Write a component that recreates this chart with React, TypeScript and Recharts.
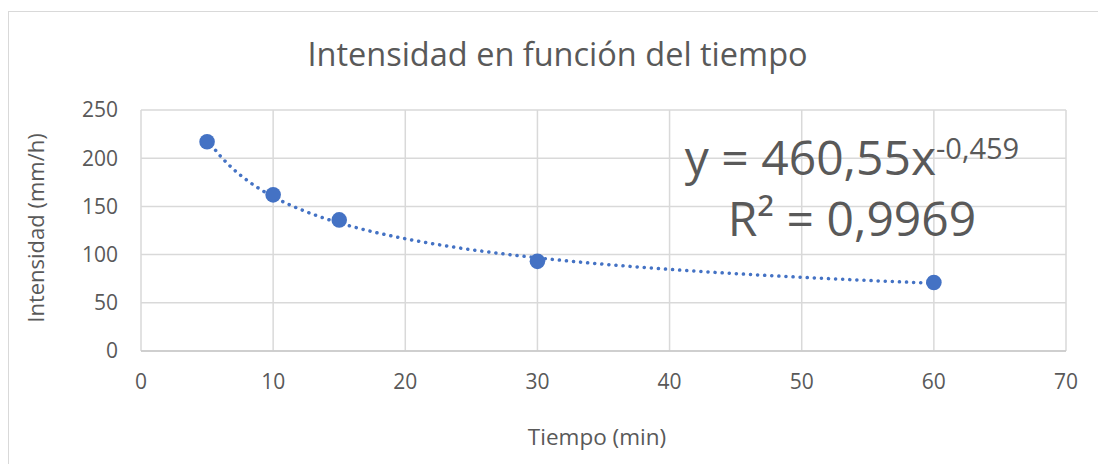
import { ComposedChart, XAxis, YAxis, CartesianGrid, Scatter, Line } from "recharts";

const FONT = "'Open Sans', 'Noto Sans', sans-serif";
const TEXT = "#595959";
const BLUE = "#4472C4";
const GRID = "#d9d9d9";

// measured intensity (mm/h) per duration (min)
const durations = [5, 10, 15, 30, 60];
const intensities = [217, 162, 136, 93, 71];

// fitted power trend: y = a * x^b
const trendA = 460.55;
const trendB = -0.459;
const trendLabel = "y = 460,55x";
const trendExpLabel = "-0,459";
const r2Label = "R² = 0,9969";

const xTicks = [0, 10, 20, 30, 40, 50, 60, 70];
const yTicks = [0, 50, 100, 150, 200, 250];

const points = durations.map((x, i) => ({ x, y: intensities[i] }));

// sample the trend curve across the measured range
const trendData: { x: number; y: number }[] = [];
for (let x = durations[0]; x <= durations[durations.length - 1]; x += 0.5) {
  trendData.push({ x, y: trendA * Math.pow(x, trendB) });
}

const tickStyle = { fill: TEXT, fontSize: 21, fontFamily: FONT };

export default function App() {
  return (
    <div
      style={{
        position: "absolute",
        left: 0,
        top: 0,
        width: 1098,
        height: 464,
        background: "#fff",
        overflow: "hidden",
        fontFamily: FONT,
        color: TEXT,
      }}
    >
      {/* chart frame */}
      <div
        style={{
          position: "absolute",
          left: 8,
          top: 11,
          width: 1120,
          height: 480,
          border: `1px solid ${GRID}`,
        }}
      />
      <ComposedChart
        width={1098}
        height={464}
        margin={{ top: 110, right: 32, bottom: 0, left: 0 }}
        style={{ position: "absolute", left: 0, top: 0 }}
      >
        <CartesianGrid stroke={GRID} strokeWidth={1.5} />
        <XAxis
          type="number"
          dataKey="x"
          domain={[0, 70]}
          ticks={xTicks}
          allowDataOverflow
          height={113}
          tick={tickStyle}
          tickLine={false}
          tickSize={0}
          tickMargin={23}
          axisLine={{ stroke: "#c8c8c8", strokeWidth: 1.5 }}
        />
        <YAxis
          type="number"
          dataKey="y"
          domain={[0, 250]}
          ticks={yTicks}
          width={141}
          tick={tickStyle}
          tickLine={false}
          tickSize={0}
          tickMargin={23}
          axisLine={false}
        />
        <Line
          data={trendData}
          dataKey="y"
          type="monotone"
          stroke={BLUE}
          strokeWidth={3.5}
          strokeDasharray="0.1 7"
          strokeLinecap="round"
          dot={false}
          activeDot={false}
          isAnimationActive={false}
        />
        <Scatter
          data={points}
          dataKey="y"
          fill={BLUE}
          isAnimationActive={false}
          shape={(p: any) => <circle cx={p.cx} cy={p.cy} r={7.8} fill={BLUE} />}
        />
      </ComposedChart>

      <div
        style={{
          position: "absolute",
          left: 0,
          width: 1115,
          top: 34,
          textAlign: "center",
          fontSize: 32.5,
          lineHeight: "40px",
          whiteSpace: "nowrap",
        }}
      >
        Intensidad en función del tiempo
      </div>

      <div
        style={{
          position: "absolute",
          left: 497,
          width: 200,
          top: 422,
          textAlign: "center",
          fontSize: 22.5,
          lineHeight: "30px",
          whiteSpace: "nowrap",
        }}
      >
        Tiempo (min)
      </div>

      <div
        style={{
          position: "absolute",
          left: 35 - 120,
          width: 240,
          top: 228 - 15,
          textAlign: "center",
          fontSize: 22,
          lineHeight: "30px",
          whiteSpace: "nowrap",
          transform: "rotate(-90deg)",
        }}
      >
        Intensidad (mm/h)
      </div>

      <div
        style={{
          position: "absolute",
          left: 652,
          width: 400,
          top: 116,
          textAlign: "center",
          fontSize: 48,
          lineHeight: "64px",
          whiteSpace: "nowrap",
        }}
      >
        {trendLabel}
        <span style={{ fontSize: 29, verticalAlign: "0.55em" }}>{trendExpLabel}</span>
      </div>
      <div
        style={{
          position: "absolute",
          left: 652,
          width: 400,
          top: 186,
          textAlign: "center",
          fontSize: 48,
          lineHeight: "64px",
          whiteSpace: "nowrap",
        }}
      >
        {r2Label}
      </div>
    </div>
  );
}
